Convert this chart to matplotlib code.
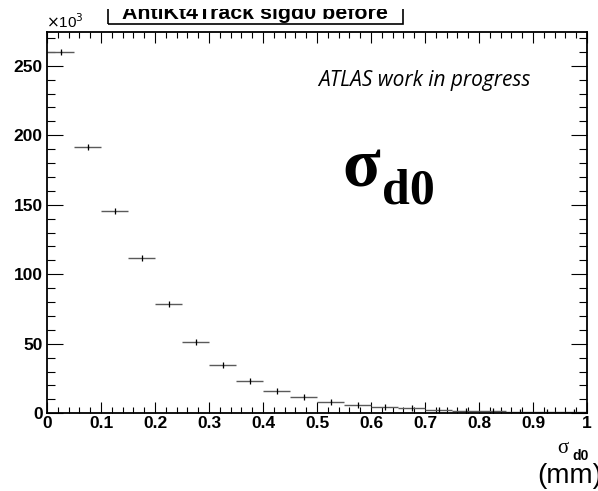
import numpy as np
import matplotlib
matplotlib.use('Agg')
from matplotlib import pyplot as plt
from matplotlib.ticker import MultipleLocator, FuncFormatter
from matplotlib.patches import Rectangle

# sigma_d0 histogram, 20 bins of 0.05 mm, entries in units of 10^3
bin_edges = np.linspace(0.0, 1.0, 21)
counts_k = [260.0, 191.6, 145.5, 111.7, 78.6, 51.5, 34.5, 23.5, 16.0, 12.0,
            8.4, 6.2, 4.5, 3.6, 2.4, 1.9, 1.6, 1.2, 0.9, 0.7]

title = 'AntiKt4Track sigd0 before'
W, H = 598, 491


def px(x, y):
    # pixel position (from top left) -> figure fraction
    return x / W, 1 - y / H


fig = plt.figure(figsize=(W / 100, H / 100), dpi=100)
l, t = px(47, 31.7)
r, b = px(587, 413.3)
ax = fig.add_axes([l, b, r - l, t - b])

centers = 0.5 * (bin_edges[:-1] + bin_edges[1:])
half = 0.5 * np.diff(bin_edges)
counts = np.array(counts_k)
errs = np.sqrt(counts * 1000) / 1000

ax.errorbar(centers, counts, xerr=half, fmt='none', ecolor='#5a5a5a', elinewidth=1.0)
ax.errorbar(centers, counts, yerr=errs, fmt='|', color='black', ms=4, mew=0.9,
            elinewidth=0.9)

ax.set_xlim(0, 1)
ax.set_ylim(0, 274.5)

ax.xaxis.set_major_locator(MultipleLocator(0.1))
ax.xaxis.set_minor_locator(MultipleLocator(0.02))
ax.yaxis.set_major_locator(MultipleLocator(50))
ax.yaxis.set_minor_locator(MultipleLocator(10))
ax.xaxis.set_major_formatter(FuncFormatter(lambda v, p: '%g' % round(v, 2)))
ax.yaxis.set_major_formatter(FuncFormatter(lambda v, p: '%g' % v))

ax.tick_params(which='both', direction='in', top=True, right=True, width=0.8)
ax.tick_params(axis='x', which='major', length=8, pad=2)
ax.tick_params(axis='x', which='minor', length=4)
ax.tick_params(axis='y', which='major', length=11.5, pad=3)
ax.tick_params(axis='y', which='minor', length=5.8)
for lab in ax.get_xticklabels() + ax.get_yticklabels():
    lab.set_fontfamily('Liberation Sans')
    lab.set_fontweight('bold')
    lab.set_fontsize(12.5)
for sp in ax.spines.values():
    sp.set_linewidth(1.3)

# exponent for the y axis
fig.text(*px(46, 28), r'$\times$10$^{3}$', fontsize=11, family='Liberation Sans',
         va='baseline', ha='left')

# title pave, its upper part falls outside the canvas
x0, y0 = px(108, 24)
x1, _ = px(403, 24)
fig.patches.append(Rectangle((x0, y0), x1 - x0, 0.2, transform=fig.transFigure,
                             fill=False, lw=1.2, ec='black', clip_on=False))
fig.text(*px(255, 19), title, fontsize=15.4, family='Liberation Sans',
         fontweight='bold', ha='center', va='baseline')
# blank strip along the top edge
fig.patches.append(Rectangle(px(0, 9), 1, 0.1, transform=fig.transFigure,
                             fc='white', ec='none', zorder=10))

fig.text(*px(318, 86), 'ATLAS work in progress', fontsize=15, family='Open Sans',
         style='italic', ha='left', va='baseline')

# big sigma_d0 label
fig.text(*px(342, 187), 'σ', fontsize=50, family='Liberation Serif',
         fontweight='bold', ha='left', va='baseline')
fig.text(*px(382, 204), 'd0', fontsize=36, family='Liberation Serif',
         fontweight='bold', ha='left', va='baseline')

# x axis title
fig.text(*px(557, 453), 'σ', fontsize=15, family='Liberation Serif',
         ha='left', va='baseline')
fig.text(*px(572, 460), 'd0', fontsize=10, family='Liberation Sans',
         fontweight='bold', ha='left', va='baseline')
fig.text(*px(602, 483), '(mm)', fontsize=20, family='Liberation Sans',
         ha='right', va='baseline')

fig.savefig('out.png', dpi=100)
